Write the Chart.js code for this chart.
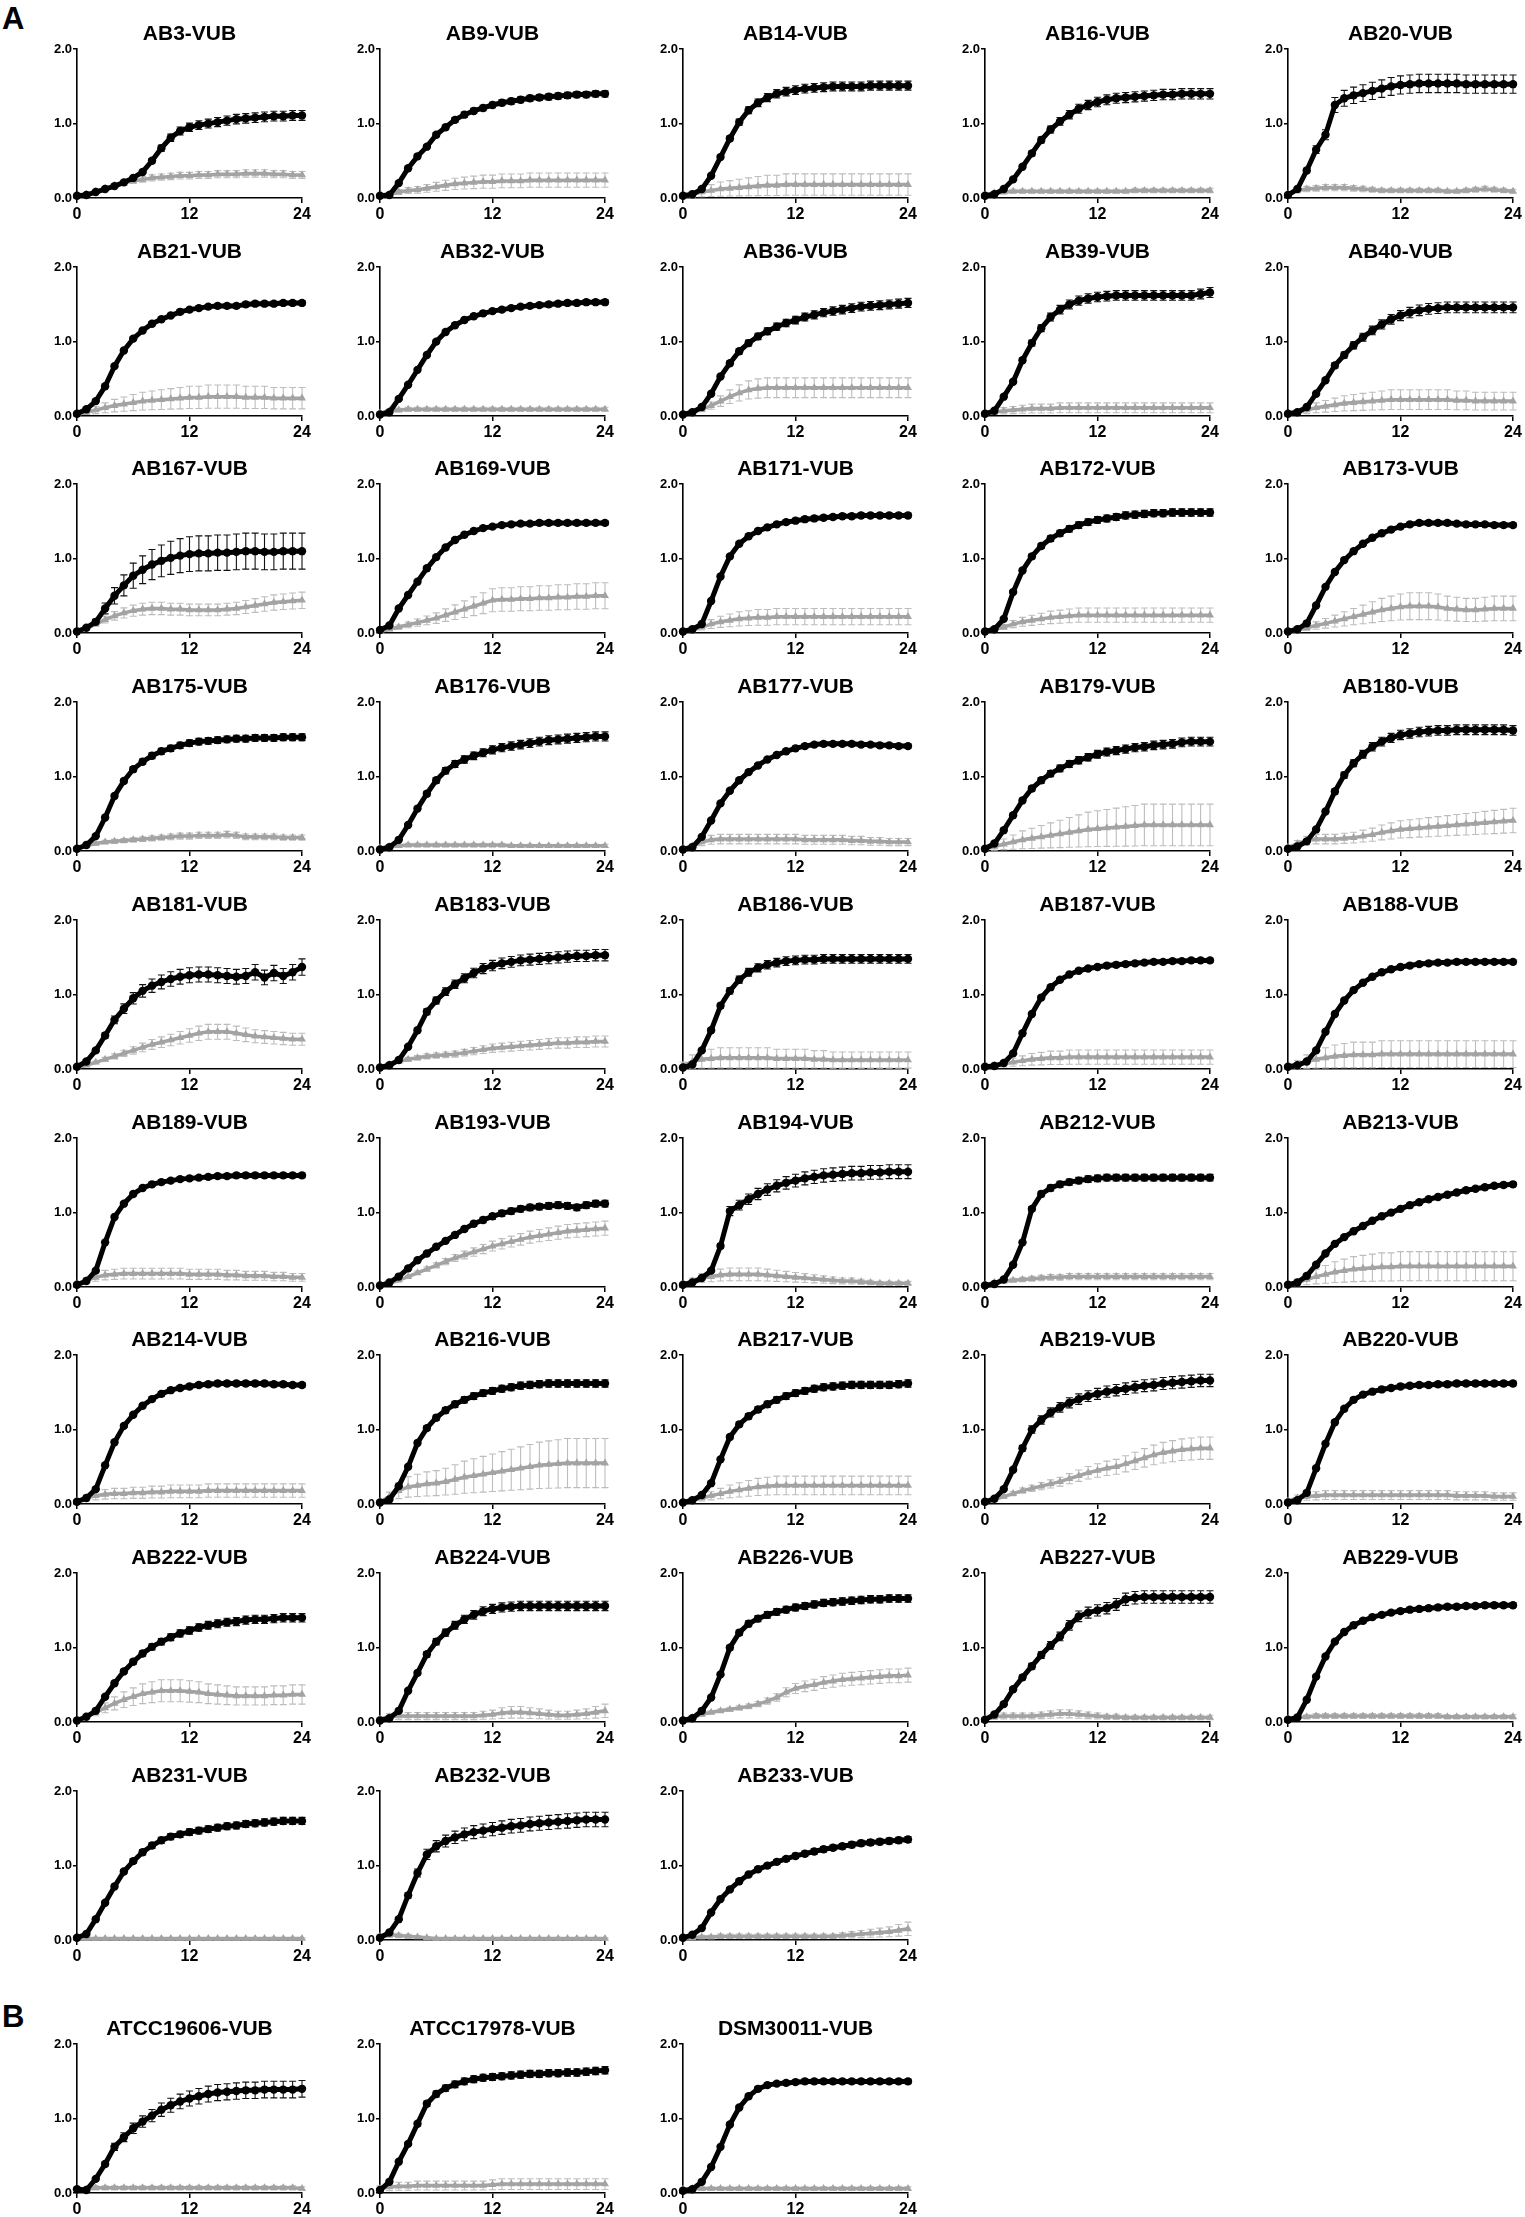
<!DOCTYPE html>
<html>
<head>
<meta charset="utf-8">
<script src="https://cdn.jsdelivr.net/npm/chart.js@4.4.1/dist/chart.umd.min.js"></script>
<style>
  body { margin: 0; background: #fff; width: 1525px; height: 2217px; position: relative; overflow: hidden;
         font-family: "Liberation Sans", Arial, sans-serif; }
  .panel { position: absolute; }
  .tag { position: absolute; font-weight: bold; font-size: 31px; line-height: 1; }
</style>
</head>
<body>
<div class="tag" style="left:2px;top:3px">A</div>
<div class="tag" style="left:2px;top:2001px">B</div>
<script>
// time points (h) and axis ticks
const hours = [0,1,2,3,4,5,6,7,8,9,10,11,12,13,14,15,16,17,18,19,20,21,22,23,24]
const xTicks = [0, 12, 24]
const yTicks = [0, 1, 2]

const strains = ['AB3-VUB','AB9-VUB','AB14-VUB','AB16-VUB','AB20-VUB',
  'AB21-VUB','AB32-VUB','AB36-VUB','AB39-VUB','AB40-VUB',
  'AB167-VUB','AB169-VUB','AB171-VUB','AB172-VUB','AB173-VUB',
  'AB175-VUB','AB176-VUB','AB177-VUB','AB179-VUB','AB180-VUB',
  'AB181-VUB','AB183-VUB','AB186-VUB','AB187-VUB','AB188-VUB',
  'AB189-VUB','AB193-VUB','AB194-VUB','AB212-VUB','AB213-VUB',
  'AB214-VUB','AB216-VUB','AB217-VUB','AB219-VUB','AB220-VUB',
  'AB222-VUB','AB224-VUB','AB226-VUB','AB227-VUB','AB229-VUB',
  'AB231-VUB','AB232-VUB','AB233-VUB',
  'ATCC19606-VUB','ATCC17978-VUB','DSM30011-VUB']

// black circles (OD600, mean)
const blackOD = [
  [0.03,0.04,0.08,0.12,0.16,0.21,0.27,0.35,0.5,0.67,0.81,0.9,0.95,0.98,1.0,1.02,1.04,1.06,1.07,1.08,1.09,1.1,1.1,1.11,1.11], // AB3
  [0.03,0.04,0.2,0.4,0.56,0.69,0.85,0.95,1.05,1.12,1.17,1.21,1.25,1.28,1.3,1.32,1.34,1.35,1.36,1.37,1.38,1.39,1.39,1.4,1.4], // AB9
  [0.03,0.05,0.12,0.3,0.55,0.8,1.02,1.18,1.28,1.35,1.4,1.43,1.45,1.47,1.48,1.49,1.5,1.5,1.5,1.5,1.51,1.51,1.51,1.51,1.51], // AB14
  [0.03,0.05,0.12,0.25,0.42,0.6,0.78,0.92,1.03,1.12,1.2,1.25,1.29,1.32,1.34,1.35,1.36,1.37,1.38,1.39,1.39,1.4,1.4,1.4,1.4], // AB16
  [0.04,0.12,0.37,0.65,0.85,1.25,1.34,1.38,1.41,1.44,1.47,1.5,1.52,1.53,1.54,1.54,1.54,1.54,1.54,1.53,1.53,1.53,1.53,1.53,1.53], // AB20
  [0.03,0.09,0.2,0.4,0.67,0.88,1.04,1.15,1.24,1.3,1.35,1.4,1.43,1.45,1.47,1.48,1.48,1.48,1.5,1.51,1.51,1.51,1.52,1.52,1.52], // AB21
  [0.02,0.05,0.23,0.42,0.62,0.82,1.0,1.13,1.22,1.29,1.34,1.38,1.41,1.43,1.45,1.47,1.48,1.49,1.5,1.51,1.52,1.52,1.53,1.53,1.53], // AB32
  [0.02,0.05,0.12,0.3,0.53,0.71,0.87,0.98,1.07,1.14,1.2,1.25,1.29,1.33,1.36,1.39,1.41,1.43,1.45,1.47,1.48,1.49,1.5,1.51,1.52], // AB36
  [0.03,0.07,0.26,0.46,0.75,0.98,1.18,1.33,1.43,1.5,1.55,1.58,1.6,1.61,1.62,1.62,1.62,1.62,1.62,1.62,1.62,1.62,1.62,1.64,1.66], // AB39
  [0.03,0.05,0.12,0.3,0.48,0.68,0.82,0.95,1.06,1.15,1.23,1.3,1.35,1.39,1.42,1.44,1.45,1.46,1.46,1.46,1.46,1.46,1.46,1.46,1.46], // AB40
  [0.02,0.07,0.15,0.33,0.5,0.64,0.77,0.85,0.92,0.97,1.01,1.04,1.06,1.07,1.07,1.08,1.08,1.09,1.1,1.1,1.09,1.09,1.1,1.1,1.1], // AB167
  [0.04,0.1,0.33,0.51,0.69,0.87,1.02,1.15,1.25,1.32,1.37,1.41,1.43,1.45,1.46,1.47,1.47,1.48,1.48,1.48,1.48,1.48,1.48,1.48,1.48], // AB169
  [0.02,0.05,0.12,0.43,0.76,1.03,1.2,1.3,1.37,1.42,1.46,1.49,1.51,1.53,1.54,1.55,1.56,1.57,1.57,1.58,1.58,1.58,1.58,1.58,1.58], // AB171
  [0.02,0.05,0.19,0.55,0.84,1.03,1.17,1.27,1.34,1.4,1.45,1.49,1.52,1.54,1.56,1.58,1.59,1.6,1.61,1.61,1.62,1.62,1.62,1.62,1.62], // AB172
  [0.02,0.05,0.13,0.37,0.62,0.82,0.98,1.1,1.2,1.28,1.34,1.39,1.43,1.46,1.48,1.48,1.48,1.48,1.47,1.46,1.46,1.46,1.45,1.45,1.45], // AB173
  [0.03,0.08,0.2,0.45,0.74,0.94,1.1,1.2,1.28,1.34,1.38,1.42,1.45,1.47,1.48,1.49,1.5,1.51,1.51,1.52,1.52,1.52,1.53,1.53,1.53], // AB175
  [0.02,0.05,0.15,0.35,0.57,0.77,0.95,1.08,1.17,1.23,1.28,1.32,1.36,1.39,1.41,1.43,1.45,1.47,1.49,1.5,1.51,1.52,1.53,1.54,1.54], // AB176
  [0.02,0.05,0.19,0.41,0.64,0.81,0.95,1.06,1.15,1.23,1.29,1.34,1.38,1.41,1.43,1.44,1.44,1.44,1.44,1.43,1.43,1.42,1.42,1.41,1.41], // AB177
  [0.03,0.1,0.28,0.48,0.68,0.84,0.95,1.04,1.11,1.17,1.22,1.26,1.3,1.33,1.35,1.37,1.39,1.4,1.42,1.43,1.44,1.46,1.47,1.47,1.47], // AB179
  [0.03,0.06,0.13,0.29,0.53,0.8,1.02,1.18,1.3,1.4,1.47,1.52,1.56,1.58,1.6,1.61,1.62,1.62,1.63,1.63,1.63,1.63,1.63,1.63,1.62], // AB180
  [0.03,0.1,0.25,0.45,0.66,0.81,0.95,1.05,1.12,1.17,1.21,1.24,1.26,1.27,1.27,1.26,1.25,1.24,1.25,1.3,1.23,1.29,1.25,1.3,1.37], // AB181
  [0.02,0.05,0.12,0.3,0.52,0.77,0.92,1.04,1.14,1.22,1.29,1.35,1.39,1.42,1.44,1.46,1.47,1.48,1.49,1.5,1.51,1.52,1.52,1.53,1.53], // AB183
  [0.02,0.06,0.25,0.52,0.85,1.05,1.2,1.3,1.36,1.4,1.43,1.45,1.46,1.47,1.47,1.48,1.48,1.48,1.48,1.48,1.48,1.48,1.48,1.48,1.48], // AB186
  [0.03,0.04,0.08,0.21,0.48,0.74,0.96,1.1,1.2,1.27,1.32,1.35,1.37,1.39,1.4,1.41,1.42,1.43,1.44,1.44,1.45,1.45,1.46,1.46,1.46], // AB187
  [0.03,0.05,0.1,0.25,0.5,0.74,0.92,1.06,1.16,1.24,1.3,1.34,1.37,1.39,1.41,1.42,1.43,1.43,1.44,1.44,1.44,1.44,1.44,1.44,1.44], // AB188
  [0.03,0.08,0.22,0.6,0.94,1.12,1.25,1.33,1.38,1.41,1.43,1.45,1.46,1.47,1.48,1.49,1.49,1.5,1.5,1.5,1.5,1.5,1.5,1.5,1.5], // AB189
  [0.02,0.06,0.14,0.25,0.36,0.45,0.54,0.62,0.7,0.78,0.85,0.9,0.95,0.99,1.02,1.05,1.07,1.08,1.09,1.1,1.09,1.07,1.1,1.12,1.12], // AB193
  [0.03,0.06,0.12,0.22,0.55,1.02,1.1,1.18,1.25,1.31,1.36,1.4,1.43,1.46,1.48,1.5,1.51,1.52,1.53,1.53,1.54,1.54,1.55,1.55,1.55], // AB194
  [0.02,0.04,0.1,0.3,0.6,1.05,1.25,1.33,1.38,1.41,1.43,1.45,1.46,1.47,1.47,1.47,1.47,1.47,1.47,1.47,1.47,1.47,1.47,1.47,1.47], // AB212
  [0.03,0.06,0.15,0.3,0.45,0.58,0.67,0.75,0.82,0.89,0.95,1.0,1.05,1.1,1.14,1.18,1.21,1.24,1.27,1.3,1.32,1.34,1.36,1.37,1.38], // AB213
  [0.03,0.08,0.2,0.52,0.83,1.05,1.2,1.32,1.41,1.48,1.53,1.56,1.58,1.6,1.61,1.62,1.62,1.62,1.62,1.62,1.62,1.61,1.61,1.6,1.6], // AB214
  [0.02,0.06,0.24,0.5,0.82,1.02,1.16,1.26,1.34,1.4,1.45,1.49,1.52,1.55,1.57,1.59,1.6,1.61,1.62,1.62,1.62,1.62,1.62,1.62,1.62], // AB216
  [0.02,0.05,0.12,0.28,0.6,0.9,1.07,1.18,1.27,1.34,1.4,1.45,1.49,1.52,1.55,1.57,1.58,1.59,1.6,1.6,1.6,1.6,1.6,1.61,1.62], // AB217
  [0.03,0.07,0.2,0.46,0.75,1.0,1.13,1.23,1.3,1.36,1.41,1.45,1.48,1.51,1.53,1.55,1.57,1.59,1.6,1.62,1.63,1.64,1.65,1.66,1.66], // AB219
  [0.02,0.05,0.15,0.48,0.81,1.1,1.28,1.4,1.47,1.51,1.54,1.56,1.58,1.59,1.6,1.6,1.61,1.61,1.62,1.62,1.62,1.62,1.62,1.62,1.62], // AB220
  [0.02,0.07,0.15,0.34,0.52,0.68,0.81,0.92,1.01,1.08,1.14,1.19,1.23,1.27,1.3,1.32,1.34,1.35,1.37,1.38,1.38,1.39,1.4,1.4,1.4], // AB222
  [0.02,0.05,0.15,0.42,0.66,0.91,1.08,1.2,1.3,1.38,1.44,1.49,1.52,1.54,1.55,1.56,1.56,1.56,1.56,1.56,1.56,1.56,1.56,1.56,1.56], // AB224
  [0.02,0.05,0.15,0.33,0.64,1.0,1.2,1.32,1.39,1.44,1.48,1.51,1.54,1.56,1.58,1.6,1.61,1.62,1.63,1.64,1.65,1.65,1.66,1.66,1.66], // AB226
  [0.03,0.1,0.24,0.44,0.6,0.75,0.9,1.03,1.15,1.3,1.42,1.47,1.5,1.53,1.58,1.65,1.67,1.68,1.68,1.68,1.68,1.68,1.68,1.68,1.68], // AB227
  [0.03,0.06,0.3,0.61,0.88,1.08,1.21,1.3,1.36,1.41,1.44,1.47,1.49,1.51,1.52,1.53,1.54,1.55,1.55,1.56,1.56,1.57,1.57,1.57,1.57], // AB229
  [0.03,0.08,0.28,0.5,0.72,0.92,1.06,1.18,1.27,1.34,1.39,1.42,1.45,1.47,1.49,1.51,1.53,1.54,1.56,1.57,1.58,1.59,1.6,1.6,1.6], // AB231
  [0.03,0.1,0.28,0.6,0.9,1.15,1.26,1.33,1.38,1.42,1.45,1.47,1.49,1.51,1.53,1.54,1.56,1.57,1.58,1.59,1.6,1.61,1.62,1.62,1.62], // AB232
  [0.03,0.07,0.16,0.37,0.55,0.68,0.79,0.88,0.95,1.0,1.05,1.09,1.13,1.16,1.19,1.22,1.24,1.26,1.28,1.3,1.31,1.32,1.33,1.34,1.35], // AB233
  [0.05,0.04,0.19,0.39,0.62,0.75,0.87,0.96,1.04,1.12,1.18,1.23,1.27,1.3,1.33,1.35,1.36,1.37,1.38,1.38,1.39,1.39,1.39,1.39,1.4], // ATCC19606
  [0.04,0.15,0.42,0.66,0.93,1.2,1.33,1.41,1.46,1.5,1.53,1.55,1.56,1.57,1.58,1.59,1.6,1.6,1.61,1.61,1.62,1.62,1.63,1.64,1.65], // ATCC17978
  [0.03,0.05,0.15,0.35,0.62,0.92,1.15,1.3,1.4,1.45,1.47,1.48,1.49,1.5,1.5,1.5,1.5,1.5,1.5,1.5,1.5,1.5,1.5,1.5,1.5]  // DSM30011
]

// grey triangles (OD600, mean)
const grayOD = [
  [0.02,0.05,0.09,0.13,0.17,0.2,0.23,0.25,0.27,0.28,0.29,0.3,0.3,0.31,0.31,0.32,0.32,0.32,0.33,0.33,0.33,0.32,0.32,0.31,0.31], // AB3
  [0.02,0.05,0.08,0.1,0.11,0.13,0.15,0.17,0.19,0.2,0.21,0.22,0.22,0.23,0.23,0.23,0.24,0.24,0.24,0.24,0.24,0.24,0.24,0.24,0.24], // AB9
  [0.02,0.05,0.08,0.1,0.12,0.13,0.14,0.15,0.16,0.17,0.17,0.18,0.18,0.18,0.18,0.18,0.18,0.18,0.18,0.18,0.18,0.18,0.18,0.18,0.18], // AB14
  [0.04,0.07,0.08,0.09,0.09,0.09,0.09,0.09,0.09,0.09,0.09,0.09,0.09,0.09,0.09,0.09,0.1,0.1,0.1,0.1,0.1,0.1,0.1,0.1,0.1], // AB16
  [0.05,0.1,0.12,0.13,0.14,0.14,0.14,0.13,0.12,0.11,0.1,0.1,0.1,0.1,0.1,0.1,0.1,0.09,0.09,0.1,0.11,0.12,0.11,0.1,0.09], // AB20
  [0.02,0.05,0.08,0.11,0.14,0.16,0.18,0.2,0.21,0.22,0.23,0.24,0.25,0.25,0.26,0.26,0.26,0.26,0.25,0.25,0.25,0.24,0.24,0.24,0.24], // AB21
  [0.04,0.07,0.08,0.09,0.09,0.09,0.09,0.09,0.09,0.09,0.09,0.09,0.09,0.09,0.09,0.09,0.09,0.09,0.09,0.09,0.09,0.09,0.09,0.09,0.09], // AB32
  [0.02,0.05,0.09,0.14,0.2,0.26,0.31,0.35,0.37,0.38,0.38,0.38,0.38,0.38,0.38,0.38,0.38,0.38,0.38,0.38,0.38,0.38,0.38,0.38,0.38], // AB36
  [0.03,0.05,0.07,0.08,0.09,0.1,0.1,0.1,0.11,0.11,0.11,0.11,0.11,0.11,0.11,0.11,0.11,0.11,0.11,0.11,0.11,0.11,0.11,0.11,0.11], // AB39
  [0.02,0.05,0.08,0.11,0.13,0.15,0.17,0.18,0.19,0.2,0.21,0.22,0.22,0.22,0.22,0.22,0.22,0.22,0.21,0.21,0.2,0.2,0.2,0.2,0.2], // AB40
  [0.02,0.06,0.12,0.18,0.23,0.27,0.3,0.32,0.33,0.33,0.32,0.32,0.31,0.31,0.31,0.31,0.32,0.33,0.35,0.37,0.39,0.41,0.42,0.43,0.44], // AB167
  [0.02,0.05,0.08,0.11,0.14,0.17,0.2,0.24,0.28,0.32,0.36,0.4,0.44,0.45,0.45,0.46,0.46,0.47,0.47,0.48,0.48,0.49,0.49,0.5,0.5], // AB169
  [0.02,0.04,0.08,0.12,0.15,0.17,0.19,0.2,0.21,0.21,0.22,0.22,0.22,0.22,0.22,0.22,0.22,0.22,0.22,0.22,0.22,0.22,0.22,0.22,0.22], // AB171
  [0.02,0.05,0.08,0.12,0.15,0.17,0.19,0.21,0.22,0.23,0.24,0.24,0.24,0.24,0.24,0.24,0.24,0.24,0.24,0.24,0.24,0.24,0.24,0.24,0.24], // AB172
  [0.02,0.04,0.07,0.1,0.13,0.16,0.19,0.22,0.25,0.28,0.31,0.33,0.35,0.36,0.36,0.36,0.35,0.33,0.32,0.31,0.31,0.32,0.33,0.33,0.33], // AB173
  [0.03,0.07,0.1,0.12,0.13,0.14,0.15,0.16,0.17,0.18,0.19,0.2,0.2,0.21,0.21,0.21,0.22,0.21,0.19,0.19,0.19,0.19,0.18,0.18,0.18], // AB175
  [0.04,0.06,0.07,0.08,0.08,0.08,0.08,0.08,0.08,0.08,0.08,0.08,0.08,0.08,0.07,0.07,0.07,0.07,0.07,0.07,0.07,0.07,0.07,0.07,0.07], // AB176
  [0.03,0.07,0.12,0.15,0.16,0.16,0.16,0.16,0.16,0.16,0.16,0.16,0.16,0.15,0.15,0.15,0.15,0.15,0.14,0.14,0.13,0.13,0.12,0.12,0.12], // AB177
  [0.03,0.06,0.09,0.12,0.15,0.17,0.19,0.21,0.23,0.25,0.27,0.29,0.3,0.31,0.32,0.33,0.34,0.35,0.35,0.35,0.35,0.35,0.35,0.35,0.35], // AB179
  [0.05,0.1,0.14,0.16,0.16,0.16,0.17,0.18,0.2,0.22,0.25,0.27,0.29,0.3,0.31,0.32,0.33,0.34,0.35,0.36,0.37,0.38,0.39,0.4,0.41], // AB180
  [0.02,0.05,0.09,0.13,0.17,0.21,0.25,0.29,0.33,0.36,0.39,0.42,0.45,0.48,0.5,0.5,0.5,0.48,0.46,0.44,0.43,0.42,0.41,0.4,0.4], // AB181
  [0.02,0.06,0.1,0.13,0.15,0.17,0.18,0.19,0.2,0.22,0.24,0.26,0.28,0.29,0.3,0.31,0.32,0.33,0.34,0.35,0.35,0.36,0.36,0.37,0.37], // AB183
  [0.05,0.1,0.13,0.14,0.15,0.15,0.15,0.15,0.15,0.15,0.14,0.14,0.14,0.14,0.13,0.13,0.12,0.12,0.12,0.12,0.12,0.12,0.12,0.12,0.12], // AB186
  [0.03,0.05,0.07,0.09,0.11,0.13,0.14,0.15,0.15,0.16,0.16,0.16,0.16,0.16,0.16,0.16,0.16,0.16,0.16,0.16,0.16,0.16,0.16,0.16,0.16], // AB187
  [0.03,0.06,0.1,0.13,0.15,0.17,0.18,0.19,0.19,0.19,0.2,0.2,0.2,0.2,0.2,0.2,0.2,0.2,0.2,0.2,0.2,0.2,0.2,0.2,0.2], // AB188
  [0.04,0.09,0.13,0.16,0.17,0.18,0.18,0.18,0.18,0.18,0.18,0.18,0.17,0.17,0.17,0.17,0.16,0.16,0.15,0.15,0.15,0.14,0.14,0.13,0.13], // AB189
  [0.02,0.05,0.09,0.14,0.19,0.24,0.29,0.34,0.39,0.43,0.47,0.51,0.55,0.58,0.61,0.64,0.67,0.69,0.71,0.73,0.75,0.76,0.77,0.78,0.79], // AB193
  [0.04,0.08,0.12,0.14,0.16,0.17,0.17,0.17,0.17,0.16,0.15,0.14,0.13,0.12,0.11,0.1,0.09,0.08,0.08,0.07,0.06,0.05,0.05,0.05,0.05], // AB194
  [0.03,0.06,0.08,0.09,0.1,0.11,0.12,0.13,0.13,0.14,0.14,0.14,0.14,0.14,0.14,0.14,0.14,0.14,0.14,0.14,0.14,0.14,0.14,0.14,0.14], // AB212
  [0.03,0.06,0.1,0.14,0.17,0.2,0.22,0.24,0.25,0.26,0.27,0.27,0.28,0.28,0.28,0.28,0.28,0.28,0.28,0.28,0.28,0.28,0.28,0.28,0.28], // AB213
  [0.04,0.08,0.11,0.13,0.14,0.14,0.15,0.15,0.16,0.16,0.17,0.17,0.17,0.17,0.18,0.18,0.18,0.18,0.18,0.18,0.18,0.18,0.18,0.18,0.18], // AB214
  [0.03,0.1,0.18,0.23,0.25,0.27,0.28,0.3,0.33,0.36,0.38,0.4,0.42,0.44,0.46,0.48,0.5,0.52,0.53,0.54,0.55,0.55,0.55,0.55,0.55], // AB216
  [0.02,0.05,0.08,0.11,0.14,0.17,0.19,0.21,0.23,0.24,0.25,0.25,0.25,0.25,0.25,0.25,0.25,0.25,0.25,0.25,0.25,0.25,0.25,0.25,0.25], // AB217
  [0.03,0.06,0.1,0.14,0.18,0.21,0.24,0.27,0.3,0.34,0.38,0.42,0.45,0.48,0.5,0.54,0.58,0.62,0.66,0.69,0.71,0.73,0.74,0.75,0.75], // AB219
  [0.04,0.08,0.1,0.11,0.12,0.12,0.12,0.12,0.12,0.12,0.12,0.12,0.12,0.12,0.12,0.12,0.12,0.12,0.11,0.11,0.11,0.11,0.1,0.1,0.1], // AB220
  [0.02,0.07,0.13,0.19,0.25,0.3,0.34,0.38,0.4,0.42,0.42,0.42,0.41,0.4,0.38,0.37,0.36,0.35,0.35,0.35,0.35,0.36,0.36,0.37,0.37], // AB222
  [0.04,0.07,0.08,0.08,0.08,0.08,0.08,0.08,0.08,0.08,0.08,0.09,0.1,0.12,0.13,0.13,0.12,0.11,0.1,0.09,0.09,0.1,0.11,0.13,0.15], // AB224
  [0.02,0.06,0.1,0.13,0.15,0.17,0.19,0.21,0.24,0.28,0.33,0.4,0.45,0.48,0.5,0.53,0.55,0.57,0.58,0.59,0.6,0.61,0.62,0.62,0.63], // AB226
  [0.04,0.07,0.08,0.08,0.08,0.08,0.09,0.1,0.11,0.11,0.1,0.09,0.08,0.07,0.07,0.06,0.06,0.06,0.06,0.06,0.06,0.06,0.06,0.06,0.06], // AB227
  [0.04,0.06,0.07,0.08,0.08,0.08,0.08,0.08,0.08,0.08,0.08,0.08,0.08,0.08,0.08,0.08,0.08,0.07,0.07,0.07,0.07,0.07,0.07,0.07,0.07], // AB229
  [0.02,0.02,0.02,0.02,0.02,0.02,0.02,0.02,0.02,0.02,0.02,0.02,0.02,0.02,0.02,0.02,0.02,0.02,0.02,0.02,0.02,0.02,0.02,0.02,0.02], // AB231
  [0.05,0.07,0.06,0.05,0.04,0.03,0.02,0.02,0.02,0.02,0.02,0.02,0.02,0.02,0.02,0.02,0.02,0.02,0.02,0.02,0.02,0.02,0.02,0.02,0.02], // AB232
  [0.02,0.03,0.04,0.04,0.05,0.05,0.05,0.05,0.05,0.05,0.05,0.05,0.05,0.05,0.05,0.05,0.05,0.06,0.07,0.08,0.09,0.1,0.11,0.13,0.15], // AB233
  [0.05,0.05,0.07,0.07,0.07,0.07,0.07,0.07,0.07,0.07,0.07,0.07,0.07,0.07,0.07,0.07,0.07,0.07,0.07,0.07,0.07,0.07,0.07,0.07,0.06], // ATCC19606
  [0.06,0.08,0.09,0.09,0.1,0.1,0.1,0.1,0.1,0.1,0.1,0.1,0.11,0.12,0.12,0.12,0.12,0.12,0.12,0.12,0.12,0.12,0.12,0.12,0.12], // ATCC17978
  [0.05,0.06,0.06,0.06,0.06,0.06,0.06,0.06,0.06,0.06,0.06,0.06,0.06,0.06,0.06,0.06,0.06,0.06,0.06,0.06,0.06,0.06,0.06,0.06,0.06]  // DSM30011
]

// relative spread of the error bars (SD / mean), one per strain
const blackCV = [0.06,0.03,0.04,0.05,0.08, 0.02,0.02,0.04,0.04,0.05, 0.22,0.02,0.02,0.03,0.02,
  0.03,0.04,0.02,0.04,0.04, 0.08,0.05,0.04,0.02,0.02, 0.02,0.04,0.06,0.03,0.02,
  0.02,0.03,0.03,0.05,0.02, 0.04,0.04,0.03,0.05,0.02, 0.03,0.06,0.03, 0.08,0.03,0.02]
const grayCV = [0.15,0.4,0.8,0.3,0.3, 0.6,0.3,0.35,0.6,0.6, 0.25,0.35,0.5,0.4,0.5,
  0.2,0.3,0.4,0.8,0.4, 0.2,0.2,0.9,0.6,0.9, 0.4,0.12,0.5,0.3,0.7,
  0.5,0.6,0.5,0.2,0.5, 0.35,0.6,0.15,0.5,0.4, 0.5,0.5,0.6, 0.4,0.6,0.4]

Chart.defaults.font.family = '"Liberation Sans", Arial, sans-serif'
Chart.defaults.color = '#000'

const colLeft = [77, 380, 683, 985, 1288]

const spotOf = function (i) {
    if (i < 43) return {left: colLeft[i % 5], bottom: 198 + Math.floor(i / 5) * 217.7}
    return {left: colLeft[i - 43], bottom: 2193}
}

// draws the SD bars under the markers
const errorBars = {
    id: 'errorBars',
    beforeDatasetsDraw(chart) {
        const ctx = chart.ctx
        const xs = chart.scales.x
        const ys = chart.scales.y
        for (let d = chart.data.datasets.length - 1; d >= 0; d--) {
            const ds = chart.data.datasets[d]
            ctx.save()
            ctx.strokeStyle = ds.errColor
            ctx.lineWidth = 1.1
            ds.data.forEach(p => {
                const e = p.y * ds.cv
                if (e <= 0) return
                const px = xs.getPixelForValue(p.x)
                const top = ys.getPixelForValue(p.y + e)
                const bot = ys.getPixelForValue(Math.max(p.y - e, 0))
                ctx.beginPath()
                ctx.moveTo(px, top); ctx.lineTo(px, bot)
                ctx.moveTo(px - 3.5, top); ctx.lineTo(px + 3.5, top)
                ctx.moveTo(px - 3.5, bot); ctx.lineTo(px + 3.5, bot)
                ctx.stroke()
            })
            ctx.restore()
        }
    }
}

const makePanel = function (i) {
    const wrap = document.createElement('div')
    wrap.className = 'panel'
    const cv = document.createElement('canvas')
    cv.width = 280
    cv.height = 210
    cv.style.width = '280px'
    cv.style.height = '210px'
    wrap.appendChild(cv)
    document.body.appendChild(wrap)

    const black = hours.map((h, k) => ({x: h, y: blackOD[i][k]}))
    const gray = hours.map((h, k) => ({x: h, y: grayOD[i][k]}))

    const chart = new Chart(cv, {
        type: 'scatter',
        data: {
            datasets: [{
                data: black,
                showLine: true,
                borderColor: '#000',
                borderWidth: 5,
                pointRadius: 4.2,
                pointBackgroundColor: '#000',
                pointBorderColor: '#000',
                pointBorderWidth: 0,
                errColor: '#111',
                cv: blackCV[i],
                clip: false
            }, {
                data: gray,
                showLine: true,
                borderColor: '#a3a3a3',
                borderWidth: 3.5,
                pointStyle: 'triangle',
                pointRadius: 4.6,
                pointBackgroundColor: '#a3a3a3',
                pointBorderColor: '#a3a3a3',
                pointBorderWidth: 0,
                errColor: '#bdbdbd',
                cv: grayCV[i],
                clip: false
            }]
        },
        options: {
            responsive: false,
            animation: false,
            events: [],
            layout: {padding: {top: 4, right: 14, left: 0, bottom: 0}},
            plugins: {
                legend: {display: false},
                tooltip: {enabled: false},
                title: {
                    display: true,
                    fullSize: false,
                    text: strains[i],
                    font: {size: 21, weight: 'bold'},
                    color: '#000',
                    padding: {top: 0, bottom: 2}
                }
            },
            scales: {
                x: {
                    type: 'linear',
                    min: 0, max: 24,
                    afterBuildTicks: s => { s.ticks = xTicks.map(v => ({value: v})) },
                    afterFit: s => { s.height = 30 },
                    ticks: {font: {size: 16, weight: 'bold'}, color: '#000', padding: 2, autoSkip: false, maxRotation: 0},
                    grid: {display: true, drawOnChartArea: false, drawTicks: true, tickLength: 5, color: '#000', lineWidth: 1.5},
                    border: {display: true, color: '#000', width: 1.6}
                },
                y: {
                    min: 0, max: 2,
                    afterBuildTicks: s => { s.ticks = yTicks.map(v => ({value: v})) },
                    afterFit: s => { s.width = 41 },
                    ticks: {font: {size: 13, weight: 'bold'}, color: '#000', padding: 1, callback: v => v.toFixed(1)},
                    grid: {display: true, drawOnChartArea: false, drawTicks: true, tickLength: 4, color: '#000', lineWidth: 1.5},
                    border: {display: true, color: '#000', width: 1.6}
                }
            }
        },
        plugins: [errorBars]
    })

    const ca = chart.chartArea
    const spot = spotOf(i)
    wrap.style.left = (spot.left - ca.left) + 'px'
    wrap.style.top = (spot.bottom - ca.bottom) + 'px'
}

strains.forEach((s, i) => makePanel(i))
</script>
</body>
</html>
